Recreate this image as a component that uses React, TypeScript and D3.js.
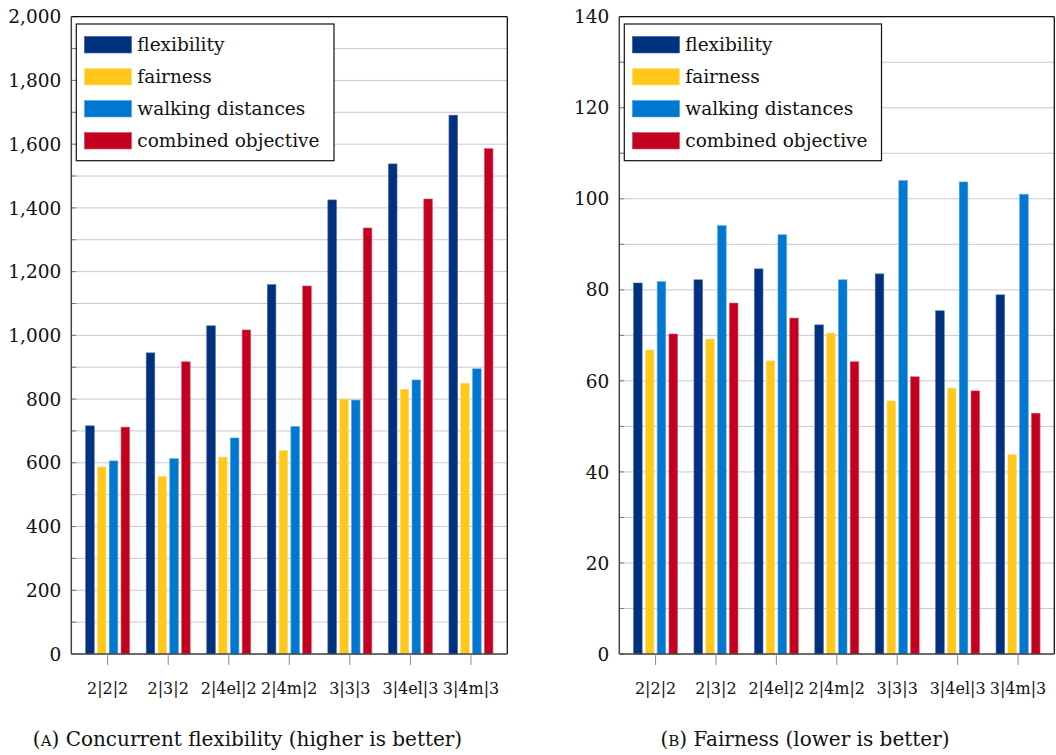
import React from "react";
import * as d3 from "d3";

const categories = ["2|2|2", "2|3|2", "2|4el|2", "2|4m|2", "3|3|3", "3|4el|3", "3|4m|3"];
const seriesNames = ["flexibility", "fairness", "walking distances", "combined objective"];
const seriesColors = ["#00317f", "#ffc81a", "#0078d2", "#c3001f"];
const seriesStroke = ["#4a6aa8", "#ffe07a", "#5aa8e6", "#dd5a6e"];

// Panel A: concurrent flexibility
const flexA = [716, 945, 1030, 1159, 1425, 1538, 1691];
const fairA = [587, 557, 618, 638, 800, 831, 850];
const walkA = [606, 613, 678, 714, 797, 860, 895];
const combA = [712, 917, 1017, 1155, 1337, 1428, 1586];
const ticksA = [0, 200, 400, 600, 800, 1000, 1200, 1400, 1600, 1800, 2000];
const minorA = d3.range(0, 2001, 100);

// Panel B: fairness
const flexB = [81.5, 82.2, 84.6, 72.3, 83.5, 75.4, 78.9];
const fairB = [66.8, 69.2, 64.4, 70.5, 55.6, 58.4, 43.8];
const walkB = [81.8, 94.1, 92.1, 82.2, 104.0, 103.7, 101.0];
const combB = [70.3, 77.1, 73.8, 64.2, 60.9, 57.8, 52.9];
const ticksB = [0, 20, 40, 60, 80, 100, 120, 140];
const minorB = d3.range(0, 141, 10);

const FONT = "DejaVu Serif, serif";
const tStyle = { fontFamily: FONT };

type PanelProps = {
  left: number;
  right: number;
  top: number;
  bottom: number;
  yMax: number;
  ticks: number[];
  minor: number[];
  fmt: (v: number) => string;
  values: number[][];
  legendW: number;
  captionLetter: string;
  captionText: string;
  captionX: number;
};

function Panel(p: PanelProps) {
  const y = d3.scaleLinear().domain([0, p.yMax]).range([p.bottom, p.top]);
  const x0 = d3.scalePoint<string>().domain(categories).range([p.left, p.right]).padding(0.6);
  const x1 = d3
    .scaleBand<number>()
    .domain(d3.range(seriesNames.length))
    .range([-23.6, 23.6])
    .paddingInner(0.27)
    .paddingOuter(0.135);
  const lx = p.left + 5;
  const ly = p.top + 7.3;
  const lh = 136.7;
  return (
    <g>
      {p.minor.map((v) => (
        <line key={"g" + v} x1={p.left} x2={p.right} y1={y(v)} y2={y(v)} stroke="#c9c9c9" strokeWidth={1} />
      ))}
      {p.minor.map((v) => (
        <line key={"t" + v} x1={p.left} x2={p.left + 5} y1={y(v)} y2={y(v)} stroke="#7a7a7a" strokeWidth={1} />
      ))}
      {categories.map((c, i) =>
        p.values.map((vals, s) => (
          <rect
            key={c + s}
            x={(x0(c) as number) + (x1(s) as number)}
            width={x1.bandwidth()}
            y={y(vals[i])}
            height={p.bottom - y(vals[i])}
            fill={seriesColors[s]}
            stroke={seriesStroke[s]}
            strokeWidth={0.6}
          />
        ))
      )}
      <line x1={p.left} x2={p.right} y1={p.top} y2={p.top} stroke="#111" strokeWidth={1.3} />
      <line x1={p.right} x2={p.right} y1={p.top} y2={p.bottom} stroke="#111" strokeWidth={1.3} />
      <line x1={p.left} x2={p.left} y1={p.top} y2={p.bottom} stroke="#444" strokeWidth={1.5} />
      <line x1={p.left} x2={p.right} y1={p.bottom} y2={p.bottom} stroke="#444" strokeWidth={1.6} />
      {categories.map((c) => (
        <g key={"x" + c}>
          <line x1={x0(c)} x2={x0(c)} y1={p.bottom} y2={p.bottom + 11} stroke="#8a8a8a" strokeWidth={1} />
          <text x={x0(c)} y={p.bottom + 40} textAnchor="middle" style={tStyle} fontSize={16} fill="#111">
            {c}
          </text>
        </g>
      ))}
      {p.ticks.map((v) => (
        <text key={"yl" + v} x={p.left - 10} y={y(v)} dy="0.36em" textAnchor="end" style={tStyle} fontSize={18.5} fill="#111">
          {p.fmt(v)}
        </text>
      ))}
      <rect x={lx} y={ly} width={p.legendW} height={lh} fill="#fff" stroke="#111" strokeWidth={1.2} />
      {seriesNames.map((n, s) => (
        <g key={n}>
          <rect
            x={lx + 8}
            y={ly + 12.4 + s * 32}
            width={47.3}
            height={16.6}
            fill={seriesColors[s]}
            stroke={seriesStroke[s]}
            strokeWidth={0.6}
          />
          <text x={lx + 61} y={ly + 20.7 + s * 32} dy="0.33em" style={tStyle} fontSize={18.5} fill="#111">
            {n}
          </text>
        </g>
      ))}
      <text x={p.captionX} y={746} textAnchor="middle" style={tStyle} fontSize={20} fill="#111">
        (<tspan fontSize={15}>{p.captionLetter}</tspan>) {p.captionText}
      </text>
    </g>
  );
}

export default function App() {
  const fmtA = d3.format(",");
  const fmtB = d3.format("d");
  return (
    <svg
      width={1056}
      height={755}
      viewBox="0 0 1056 755"
      style={{ position: "absolute", left: 0, top: 0, background: "#fff" }}
    >
      <rect width={1056} height={755} fill="#fff" />
      <Panel
        left={71.3}
        right={507.3}
        top={16.7}
        bottom={654}
        yMax={2000}
        ticks={ticksA}
        minor={minorA}
        fmt={fmtA}
        values={[flexA, fairA, walkA, combA]}
        legendW={257.7}
        captionLetter="A"
        captionText="Concurrent flexibility (higher is better)"
        captionX={247.5}
      />
      <Panel
        left={619.3}
        right={1054.3}
        top={16.7}
        bottom={654}
        yMax={140}
        ticks={ticksB}
        minor={minorB}
        fmt={fmtB}
        values={[flexB, fairB, walkB, combB]}
        legendW={257.2}
        captionLetter="B"
        captionText="Fairness (lower is better)"
        captionX={805}
      />
    </svg>
  );
}
